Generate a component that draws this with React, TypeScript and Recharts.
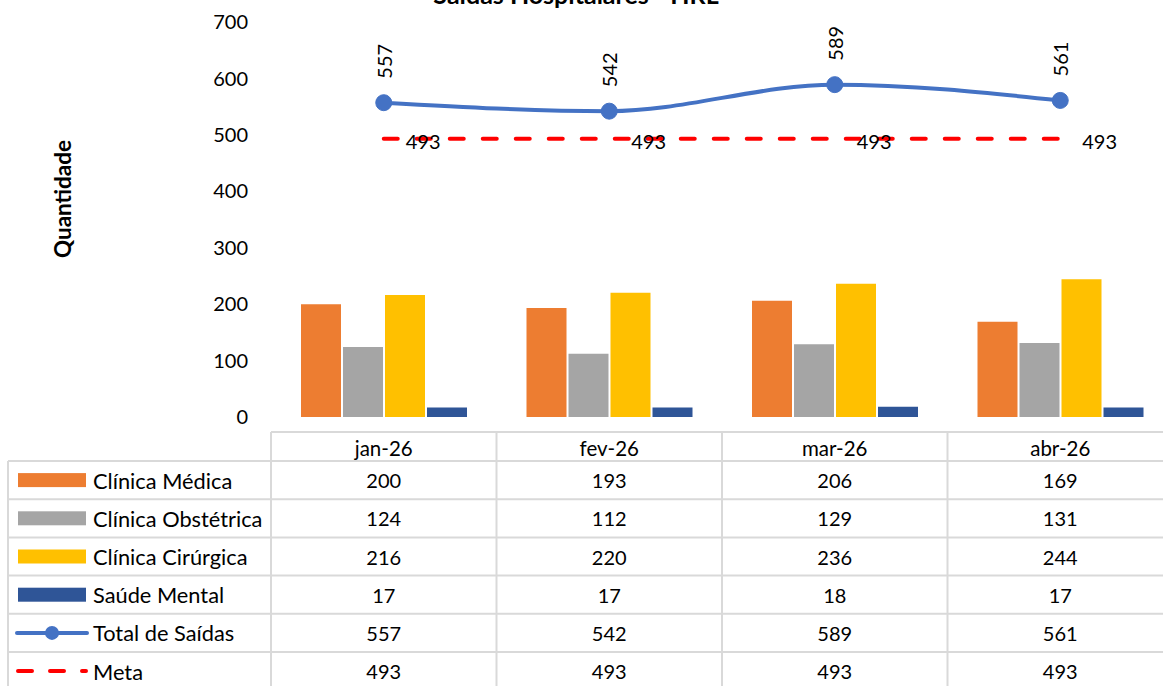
import React from 'react';
import { ComposedChart, Bar, Line, XAxis, YAxis, LabelList } from 'recharts';

const months = ['jan-26', 'fev-26', 'mar-26', 'abr-26'];
const clinicaMedica = [200, 193, 206, 169];
const clinicaObstetrica = [124, 112, 129, 131];
const clinicaCirurgica = [216, 220, 236, 244];
const saudeMental = [17, 17, 18, 17];
const totalSaidas = [557, 542, 589, 561];
const meta = [493, 493, 493, 493];
const yTicks = [0, 100, 200, 300, 400, 500, 600, 700];

const seriesNames = ['Clínica Médica', 'Clínica Obstétrica', 'Clínica Cirúrgica', 'Saúde Mental', 'Total de Saídas', 'Meta'];

const data = months.map((m, i) => ({
  month: m,
  medica: clinicaMedica[i],
  obstetrica: clinicaObstetrica[i],
  cirurgica: clinicaCirurgica[i],
  mental: saudeMental[i],
  total: totalSaidas[i],
  meta: meta[i],
}));

const tableRows = [
  { name: seriesNames[0], values: clinicaMedica, kind: 'bar', color: '#ED7D31' },
  { name: seriesNames[1], values: clinicaObstetrica, kind: 'bar', color: '#A5A5A5' },
  { name: seriesNames[2], values: clinicaCirurgica, kind: 'bar', color: '#FFC000' },
  { name: seriesNames[3], values: saudeMental, kind: 'bar', color: '#2F5597' },
  { name: seriesNames[4], values: totalSaidas, kind: 'line', color: '#4472C4' },
  { name: seriesNames[5], values: meta, kind: 'dash', color: '#FF0000' },
];

const FONT = 'Lato, "Open Sans", sans-serif';
const CHART_W = 1180;
const CHART_H = 686;
const PLOT_LEFT = 271;
const PLOT_RIGHT = 1173;
const PLOT_TOP = 22;
const PLOT_BOTTOM = 417;
const BAND = (PLOT_RIGHT - PLOT_LEFT) / months.length;
const GRID = '#D9D9D9';

const TotalLabel = (props: any) => {
  const { x, y, value } = props;
  const ty = y - 24;
  return (
    <text x={x} y={ty} transform={`rotate(-90 ${x} ${ty})`} textAnchor="start" dominantBaseline="central"
      fontSize={20} fontFamily={FONT} fill="#000">{value}</text>
  );
};

const MetaLabel = (props: any) => {
  const { x, y, value } = props;
  return (
    <text x={x + 22} y={y + 2} textAnchor="start" dominantBaseline="central"
      fontSize={20} fontFamily={FONT} fill="#000">{value}</text>
  );
};

function Table() {
  const ROW_TOP = 461;
  const ROW_H = 38.2;
  const HEAD_TOP = 432;
  const hLines = [] as React.ReactNode[];
  hLines.push(<line key="h-head" x1={PLOT_LEFT} x2={1163} y1={HEAD_TOP} y2={HEAD_TOP} stroke={GRID} strokeWidth={2} />);
  for (let i = 0; i <= tableRows.length; i++) {
    const y = ROW_TOP + i * ROW_H;
    hLines.push(<line key={'h' + i} x1={8} x2={1163} y1={y} y2={y} stroke={GRID} strokeWidth={2} />);
  }
  const vLines = [] as React.ReactNode[];
  vLines.push(<line key="v-left" x1={8} x2={8} y1={ROW_TOP} y2={700} stroke={GRID} strokeWidth={2} />);
  for (let j = 0; j <= months.length; j++) {
    const x = PLOT_LEFT + j * BAND;
    vLines.push(<line key={'v' + j} x1={x} x2={x} y1={HEAD_TOP} y2={700} stroke={GRID} strokeWidth={2} />);
  }
  return (
    <g>
      {hLines}
      {vLines}
      {months.map((m, j) => (
        <text key={m} x={PLOT_LEFT + (j + 0.5) * BAND} y={(HEAD_TOP + ROW_TOP) / 2 + 1} textAnchor="middle"
          dominantBaseline="central" fontSize={20.5} fontFamily={FONT} fill="#000">{m}</text>
      ))}
      {tableRows.map((r, i) => {
        const cy = ROW_TOP + (i + 0.5) * ROW_H;
        let key: React.ReactNode = null;
        if (r.kind === 'bar') {
          key = <rect x={18} y={cy - 7} width={68} height={14} fill={r.color} />;
        } else if (r.kind === 'line') {
          key = (
            <g>
              <line x1={17} x2={87} y1={cy} y2={cy} stroke={r.color} strokeWidth={4} strokeLinecap="round" />
              <circle cx={52} cy={cy} r={7} fill={r.color} />
            </g>
          );
        } else {
          key = <line x1={18} x2={86} y1={cy} y2={cy} stroke={r.color} strokeWidth={4} strokeDasharray="14 18" strokeLinecap="round" />;
        }
        return (
          <g key={r.name}>
            {key}
            <text x={93} y={cy} dominantBaseline="central" fontSize={21.8} fontFamily={FONT} fill="#000">{r.name}</text>
            {r.values.map((v, j) => (
              <text key={j} x={PLOT_LEFT + (j + 0.5) * BAND} y={cy} textAnchor="middle" dominantBaseline="central"
                fontSize={20} fontFamily={FONT} fill="#000">{v}</text>
            ))}
          </g>
        );
      })}
    </g>
  );
}

export default function App() {
  return (
    <div style={{ position: 'absolute', left: 0, top: 0, width: 1163, height: 686, overflow: 'hidden', background: '#fff' }}>
      <ComposedChart
        width={CHART_W}
        height={CHART_H}
        data={data}
        barGap={2}
        margin={{ top: PLOT_TOP, right: CHART_W - PLOT_RIGHT, bottom: CHART_H - PLOT_BOTTOM, left: 0 }}
      >
        <XAxis dataKey="month" hide />
        <YAxis
          width={PLOT_LEFT}
          domain={[0, 700]}
          ticks={yTicks}
          interval={0}
          axisLine={false}
          tickLine={false}
          tickSize={0}
          tickMargin={23}
          tick={{ fontSize: 20, fill: '#000', fontFamily: FONT }}
        />
        <Bar dataKey="medica" fill="#ED7D31" barSize={40} isAnimationActive={false} />
        <Bar dataKey="obstetrica" fill="#A5A5A5" barSize={40} isAnimationActive={false} />
        <Bar dataKey="cirurgica" fill="#FFC000" barSize={40} isAnimationActive={false} />
        <Bar dataKey="mental" fill="#2F5597" barSize={40} isAnimationActive={false} />
        <Line dataKey="meta" stroke="#FF0000" strokeWidth={4} strokeDasharray="14 19" strokeLinecap="round"
          dot={false} activeDot={false} isAnimationActive={false} type="linear">
          <LabelList dataKey="meta" content={<MetaLabel />} />
        </Line>
        <Line dataKey="total" stroke="#4472C4" strokeWidth={4} type="monotone"
          dot={{ r: 8, fill: '#4472C4', stroke: '#4472C4', strokeWidth: 1 }} activeDot={false} isAnimationActive={false}>
          <LabelList dataKey="total" content={<TotalLabel />} />
        </Line>
      </ComposedChart>
      <svg width={1163} height={686} style={{ position: 'absolute', left: 0, top: 0, pointerEvents: 'none' }}>
        <text x={576} y={4} textAnchor="middle" fontSize={25} fontWeight="bold" fontFamily={FONT} fill="#000">
          Saídas Hospitalares - HRL
        </text>
        <text x={62} y={199} transform="rotate(-90 62 199)" textAnchor="middle" dominantBaseline="central"
          fontSize={22.5} fontWeight="bold" fontFamily={FONT} fill="#000">Quantidade</text>
        <Table />
      </svg>
    </div>
  );
}
